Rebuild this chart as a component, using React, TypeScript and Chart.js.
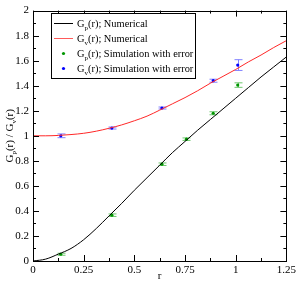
import React, { useEffect, useRef } from "react";
import { Chart, registerables } from "chart.js";

Chart.register(...registerables);

// Numerical curves
const rNum = [0, 0.0625, 0.125, 0.1875, 0.25, 0.3125, 0.375, 0.4375, 0.5, 0.5625, 0.625, 0.6875, 0.75, 0.8125, 0.875, 0.9375, 1.0, 1.0625, 1.125, 1.1875, 1.25];
const gpNum = [0, 0.015, 0.055, 0.1, 0.17, 0.26, 0.36, 0.46, 0.565, 0.665, 0.765, 0.865, 0.955, 1.045, 1.13, 1.215, 1.3, 1.385, 1.47, 1.55, 1.63];
const gvNum = [1.0, 1.0, 1.003, 1.01, 1.02, 1.037, 1.06, 1.087, 1.12, 1.157, 1.205, 1.255, 1.305, 1.36, 1.42, 1.475, 1.53, 1.59, 1.645, 1.705, 1.76];

// Simulation points with errors
const rSimP = [0.137, 0.389, 0.636, 0.757, 0.889, 1.01];
const gpSim = [0.054, 0.366, 0.773, 0.973, 1.18, 1.405];
const gpErr = [0.008, 0.01, 0.01, 0.01, 0.012, 0.018];
const rSimV = [0.137, 0.389, 0.636, 0.889, 1.01];
const gvSim = [1.0, 1.062, 1.222, 1.44, 1.565];
const gvErr = [0.015, 0.008, 0.008, 0.012, 0.043];

const xTicks = [0, 0.25, 0.5, 0.75, 1, 1.25];
const yTicks = [0, 0.2, 0.4, 0.6, 0.8, 1, 1.2, 1.4, 1.6, 1.8, 2];

const FONT = "'Liberation Serif', 'DejaVu Serif', serif";
const GREEN = "rgb(0,150,0)";
const GREEN_ERR = "rgb(110,200,110)";
const BLUE = "rgb(0,0,255)";
const BLUE_ERR = "rgb(130,130,255)";

type Seg = { t: string; sub?: boolean };

function richWidth(ctx: CanvasRenderingContext2D, segs: Seg[], size: number) {
  let w = 0;
  for (const s of segs) {
    ctx.font = `${s.sub ? Math.round(size * 0.65) : size}px ${FONT}`;
    w += ctx.measureText(s.t).width;
  }
  return w;
}

function drawRich(ctx: CanvasRenderingContext2D, segs: Seg[], x: number, y: number, size: number) {
  ctx.textBaseline = "alphabetic";
  ctx.textAlign = "left";
  ctx.fillStyle = "#000";
  let cx = x;
  for (const s of segs) {
    const sz = s.sub ? Math.round(size * 0.65) : size;
    ctx.font = `${sz}px ${FONT}`;
    ctx.fillText(s.t, cx, s.sub ? y + size * 0.3 : y);
    cx += ctx.measureText(s.t).width;
  }
}

const legendItems: { segs: Seg[]; kind: "line" | "dot"; color: string }[] = [
  { segs: [{ t: "G" }, { t: "p", sub: true }, { t: "(r); Numerical" }], kind: "line", color: "#000" },
  { segs: [{ t: "G" }, { t: "v", sub: true }, { t: "(r); Numerical" }], kind: "line", color: "rgb(255,90,90)" },
  { segs: [{ t: "G" }, { t: "p", sub: true }, { t: "(r); Simulation with error" }], kind: "dot", color: GREEN },
  { segs: [{ t: "G" }, { t: "v", sub: true }, { t: "(r); Simulation with error" }], kind: "dot", color: BLUE },
];

const customPlugin = {
  id: "custom",
  beforeDatasetsDraw(chart: any) {
    const { ctx } = chart;
    const xs = chart.scales.x;
    const ys = chart.scales.y;
    const drawErr = (rx: number[], ry: number[], re: number[], color: string) => {
      ctx.save();
      ctx.strokeStyle = color;
      ctx.lineWidth = 1;
      for (let i = 0; i < rx.length; i++) {
        const px = Math.round(xs.getPixelForValue(rx[i])) + 0.5;
        const top = ys.getPixelForValue(ry[i] + re[i]);
        const bot = ys.getPixelForValue(ry[i] - re[i]);
        ctx.beginPath();
        ctx.moveTo(px, top);
        ctx.lineTo(px, bot);
        ctx.moveTo(px - 4, top);
        ctx.lineTo(px + 4, top);
        ctx.moveTo(px - 4, bot);
        ctx.lineTo(px + 4, bot);
        ctx.stroke();
      }
      ctx.restore();
    };
    drawErr(rSimP, gpSim, gpErr, GREEN_ERR);
    drawErr(rSimV, gvSim, gvErr, BLUE_ERR);
  },
  afterDraw(chart: any) {
    const { ctx, chartArea: a } = chart;
    const xs = chart.scales.x;
    const ys = chart.scales.y;
    ctx.save();
    ctx.strokeStyle = "#000";
    ctx.lineWidth = 1;
    // frame
    ctx.strokeRect(Math.round(a.left) + 0.5, Math.round(a.top) + 0.5, Math.round(a.right - a.left), Math.round(a.bottom - a.top));
    // ticks
    ctx.beginPath();
    for (let v = 0; v <= 1.25 + 1e-9; v += 0.125) {
      const major = Math.abs(v / 0.25 - Math.round(v / 0.25)) < 1e-6;
      const len = major ? 6 : 3;
      const px = Math.round(xs.getPixelForValue(v)) + 0.5;
      ctx.moveTo(px, a.bottom);
      ctx.lineTo(px, a.bottom - len);
      ctx.moveTo(px, a.top);
      ctx.lineTo(px, a.top + len);
    }
    for (let v = 0; v <= 2 + 1e-9; v += 0.1) {
      const major = Math.abs(v / 0.2 - Math.round(v / 0.2)) < 1e-6;
      const len = major ? 6 : 3;
      const py = Math.round(ys.getPixelForValue(v)) + 0.5;
      ctx.moveTo(a.left, py);
      ctx.lineTo(a.left + len, py);
      ctx.moveTo(a.right, py);
      ctx.lineTo(a.right - len, py);
    }
    ctx.stroke();

    // legend
    const lx = 51, ly = 13, lw = 144, lh = 65;
    ctx.fillStyle = "#fff";
    ctx.fillRect(lx, ly, lw, lh);
    ctx.strokeRect(lx + 0.5, ly + 0.5, lw, lh);
    const rows = [23.5, 38.5, 53.5, 68.5];
    legendItems.forEach((it, i) => {
      const y = rows[i];
      if (it.kind === "line") {
        ctx.strokeStyle = it.color;
        ctx.beginPath();
        ctx.moveTo(54, y);
        ctx.lineTo(73, y);
        ctx.stroke();
      } else {
        ctx.fillStyle = it.color;
        ctx.beginPath();
        ctx.arc(63.5, y, 1.6, 0, Math.PI * 2);
        ctx.fill();
      }
      drawRich(ctx, it.segs, 77, y + 3.5, 10.4);
    });

    // y title
    const ySegs: Seg[] = [{ t: "G" }, { t: "p", sub: true }, { t: "(r) / G" }, { t: "v", sub: true }, { t: "(r)" }];
    const w = richWidth(ctx, ySegs, 11);
    ctx.save();
    ctx.translate(13, (a.top + a.bottom) / 2);
    ctx.rotate(-Math.PI / 2);
    drawRich(ctx, ySegs, -w / 2, 0, 11);
    ctx.restore();

    // x title
    ctx.font = `11px ${FONT}`;
    ctx.fillStyle = "#000";
    ctx.textAlign = "center";
    ctx.textBaseline = "alphabetic";
    ctx.fillText("r", (a.left + a.right) / 2, 279);
    ctx.restore();
  },
};

export default function App() {
  const ref = useRef<HTMLCanvasElement | null>(null);
  useEffect(() => {
    document.body.style.margin = "0";
    const canvas = ref.current!;
    const chart = new Chart(canvas, {
      type: "scatter",
      data: {
        datasets: [
          {
            data: rNum.map((r, i) => ({ x: r, y: gpNum[i] })),
            showLine: true,
            borderColor: "#000",
            borderWidth: 1,
            pointRadius: 0,
            cubicInterpolationMode: "monotone",
          },
          {
            data: rNum.map((r, i) => ({ x: r, y: gvNum[i] })),
            showLine: true,
            borderColor: "rgb(255,40,40)",
            borderWidth: 1,
            pointRadius: 0,
            cubicInterpolationMode: "monotone",
          },
          {
            data: rSimP.map((r, i) => ({ x: r, y: gpSim[i] })),
            backgroundColor: GREEN,
            borderColor: GREEN,
            pointRadius: 1.6,
            borderWidth: 0,
          },
          {
            data: rSimV.map((r, i) => ({ x: r, y: gvSim[i] })),
            backgroundColor: BLUE,
            borderColor: BLUE,
            pointRadius: 1.6,
            borderWidth: 0,
          },
        ] as any,
      },
      options: {
        animation: false,
        responsive: false,
        maintainAspectRatio: false,
        layout: { padding: { top: 4, right: 10, left: 0, bottom: 0 } },
        plugins: { legend: { display: false }, tooltip: { enabled: false } },
        scales: {
          x: {
            type: "linear",
            min: 0,
            max: 1.25,
            afterBuildTicks: (s: any) => {
              s.ticks = xTicks.map((v) => ({ value: v }));
            },
            afterFit: (s: any) => {
              s.height = 20;
            },
            grid: { display: false, drawTicks: false },
            border: { display: false },
            ticks: {
              padding: 3,
              color: "#000",
              font: { family: FONT, size: 11 },
              maxRotation: 0,
              callback: (v: any) => String(Number(Number(v).toFixed(2))),
            },
          },
          y: {
            type: "linear",
            min: 0,
            max: 2,
            afterBuildTicks: (s: any) => {
              s.ticks = yTicks.map((v) => ({ value: v }));
            },
            afterFit: (s: any) => {
              s.width = 33;
            },
            grid: { display: false, drawTicks: false },
            border: { display: false },
            ticks: {
              padding: 4,
              color: "#000",
              font: { family: FONT, size: 11 },
              callback: (v: any) => String(Number(Number(v).toFixed(1))),
            },
          },
        },
      } as any,
      plugins: [customPlugin],
    });
    return () => chart.destroy();
  }, []);
  return (
    <div style={{ width: 299, height: 281 }}>
      <canvas ref={ref} width={299} height={281} style={{ display: "block" }} />
    </div>
  );
}
